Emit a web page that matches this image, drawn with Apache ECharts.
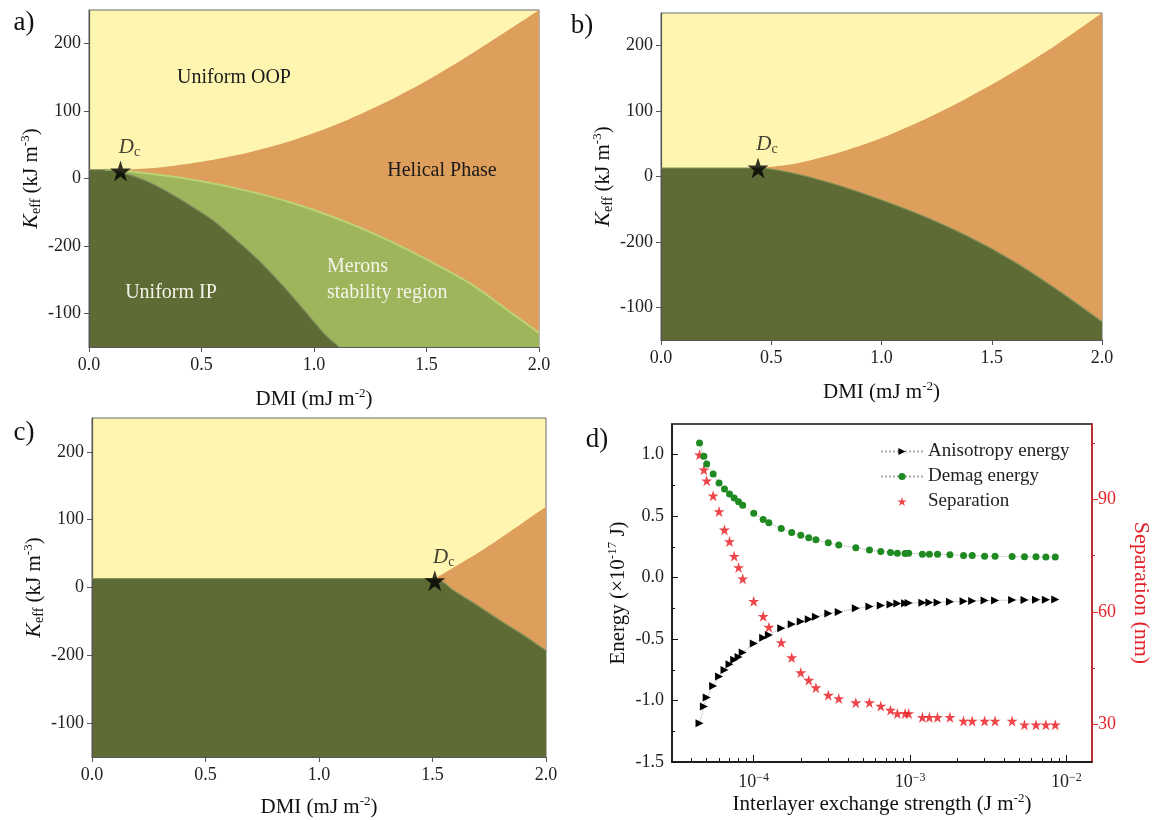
<!DOCTYPE html>
<html>
<head>
<meta charset="utf-8">
<script src="https://cdn.jsdelivr.net/npm/echarts@6/dist/echarts.min.js"></script>
<style>
  html, body { margin: 0; padding: 0; background: #fff; }
  #chart { width: 1153px; height: 820px; }
</style>
</head>
<body>
<div id="chart"></div>
<script>
// ---- phase diagrams, [DMI, Keff] ----
var aHelicalTop = [[0.14,13],[0.3,16],[0.5,25],[0.7,38],[0.9,56],[1.1,80],[1.3,110],[1.5,145],[1.7,185],[1.9,228],[2.0,250]];
var aMeronTop = [[0.07,13],[0.14,12],[0.3,6],[0.5,-4],[0.7,-18],[0.9,-36],[1.1,-59],[1.3,-87],[1.5,-120],[1.7,-157],[1.9,-205],[2.0,-229]];
var aIpTop = [[0,13],[0.07,13],[0.15,8],[0.25,-3],[0.35,-20],[0.45,-40],[0.55,-62],[0.65,-90],[0.75,-120],[0.85,-155],[0.95,-193],[1.05,-232],[1.12,-252]];
var bHelicalTop = [[0.44,13],[0.6,19],[0.8,36],[1.0,59],[1.2,88],[1.4,122],[1.6,160],[1.8,203],[2.0,250]];
var bIpTop = [[0,13],[0.44,13],[0.6,5],[0.8,-13],[1.0,-36],[1.2,-62],[1.4,-93],[1.6,-130],[1.8,-174],[2.0,-222]];
var cHelicalTop = [[1.51,13],[1.6,31],[1.7,51],[1.8,73],[1.9,96],[2.0,119]];
var cIpTop = [[0,13],[1.51,13],[1.6,-6],[1.7,-27],[1.8,-49],[1.9,-70],[2.0,-93]];
var dcPoints = [[0.14,11],[0.44,13],[1.51,10]];

// y tick labels as printed in the figure (lower two are swapped there)
var kTickValues = [-200, -100, 0, 100, 200];
var kTickText = ['-100', '-200', '0', '100', '200'];

// ---- panel d ----
var exchange = [4.5e-5,4.8e-5,5.0e-5,5.5e-5,6.0e-5,6.5e-5,7.0e-5,7.5e-5,8.0e-5,8.5e-5,
  1.0e-4,1.15e-4,1.25e-4,1.5e-4,1.75e-4,2.0e-4,2.25e-4,2.5e-4,3.0e-4,3.5e-4,
  4.5e-4,5.5e-4,6.5e-4,7.5e-4,8.3e-4,9.3e-4,9.8e-4,1.2e-3,1.33e-3,1.5e-3,
  1.8e-3,2.2e-3,2.5e-3,3.0e-3,3.5e-3,4.5e-3,5.4e-3,6.4e-3,7.4e-3,8.5e-3];
var anisotropy = [-1.185,-1.049,-0.976,-0.881,-0.805,-0.751,-0.704,-0.669,-0.645,-0.609,
  -0.536,-0.490,-0.466,-0.411,-0.379,-0.357,-0.338,-0.319,-0.292,-0.279,
  -0.250,-0.235,-0.227,-0.218,-0.211,-0.209,-0.207,-0.204,-0.203,-0.202,
  -0.197,-0.193,-0.191,-0.186,-0.186,-0.182,-0.181,-0.180,-0.179,-0.178];
var demag = [1.095,0.987,0.924,0.843,0.770,0.721,0.680,0.647,0.617,0.588,
  0.523,0.474,0.446,0.400,0.368,0.344,0.324,0.308,0.283,0.265,
  0.243,0.224,0.213,0.205,0.198,0.197,0.199,0.191,0.191,0.190,
  0.186,0.181,0.180,0.175,0.175,0.172,0.169,0.169,0.168,0.167];
var separation = [101.8,97.8,94.9,90.9,86.7,81.8,78.7,74.8,71.8,68.8,
  62.8,58.8,55.9,51.8,47.8,43.8,41.8,39.8,37.8,36.9,
  35.8,35.8,34.9,33.8,32.9,32.9,32.9,31.9,31.9,31.9,
  31.9,30.9,30.9,30.9,30.9,30.9,29.9,29.9,29.9,29.9];
var energyTicks = [-1.5, -1.0, -0.5, 0.0, 0.5, 1.0];
var energyMinor = [-1.25, -0.75, -0.25, 0.25, 0.75];
var sepTicks = [30, 60, 90];
var sepMinor = [45, 75, 105];
var logMinor = [4e-5,5e-5,6e-5,7e-5,8e-5,9e-5,2e-4,3e-4,4e-4,5e-4,6e-4,7e-4,8e-4,9e-4,2e-3,3e-3,4e-3,5e-3,6e-3,7e-3,8e-3,9e-3];

var FONT = '"Liberation Serif", "Times New Roman", serif';
var YELLOW = '#fef6b0', ORANGE = '#dd9f5b', LGREEN = '#9fb55b', DGREEN = '#5e6b35';
var RED = '#e3232a';
var STAR = 'path://M50,0 L61.2,34.5 L97.6,34.5 L68.2,55.9 L79.4,90.5 L50,69.1 L20.6,90.5 L31.8,55.9 L2.4,34.5 L38.8,34.5 Z';

var titleRich = {
  t: { fontFamily: FONT, fontSize: 21, color: '#111', lineHeight: 24 },
  i: { fontFamily: FONT, fontSize: 22, color: '#111', fontStyle: 'italic', lineHeight: 24 },
  sub: { fontFamily: FONT, fontSize: 14, color: '#111', lineHeight: 14, verticalAlign: 'bottom' },
  sup: { fontFamily: FONT, fontSize: 13, color: '#111', lineHeight: 13, verticalAlign: 'top' }
};

var grids = [
  { left: 89, top: 10, width: 450, height: 337 },
  { left: 661, top: 13, width: 441, height: 327 },
  { left: 92, top: 418, width: 454, height: 339 },
  { left: 672, top: 424, width: 420, height: 338 }
];
grids.forEach(function (g, i) {
  g.show = true;
  g.containLabel = false;
  g.outerBoundsMode = 'none';
  g.backgroundColor = i < 3 ? YELLOW : 'transparent';
  g.borderColor = i < 3 ? '#6b6b6b' : '#111';
  g.borderWidth = i < 3 ? 1 : 1.5;
});

var xAxes = [], yAxes = [];
[40, 40, 38].forEach(function (gap, i) {
  xAxes.push({
    type: 'value', gridIndex: i, min: 0, max: 2, interval: 0.5, z: 3,
    axisLine: { onZero: false, lineStyle: { color: '#555', width: 1.2 } },
    axisTick: { length: 5, lineStyle: { color: '#555' } },
    axisLabel: { fontFamily: FONT, fontSize: 18, color: '#222', margin: 9,
      formatter: function (v) { return v.toFixed(1); } },
    splitLine: { show: false },
    name: '{t|DMI (mJ m}{sup|-2}{t|)}', nameLocation: 'middle', nameGap: gap,
    nameTextStyle: { rich: titleRich }
  });
  yAxes.push({
    type: 'value', gridIndex: i, min: -250, max: 250, z: 3,
    axisLine: { show: true, onZero: false, lineStyle: { color: '#555', width: 1.2 } },
    axisTick: { show: true, length: 5, customValues: kTickValues, lineStyle: { color: '#555' } },
    axisLabel: { fontFamily: FONT, fontSize: 18, color: '#222', margin: 8, customValues: kTickValues,
      formatter: function (v) { return kTickText[kTickValues.indexOf(v)]; } },
    splitLine: { show: false },
    name: '{i|K}{sub|eff}{t| (kJ m}{sup|-3}{t|)}', nameLocation: 'middle', nameGap: 46, nameRotate: 90,
    nameTextStyle: { rich: titleRich }
  });
});

// panel d axes
xAxes.push({
  type: 'log', logBase: 10, gridIndex: 3, min: 3e-5, max: 1.46e-2, position: 'bottom',
  axisLine: { onZero: false, lineStyle: { color: '#111', width: 1.5 } },
  axisTick: { inside: true, length: 7, lineStyle: { color: '#111' } },
  axisLabel: { showMinLabel: false, showMaxLabel: false, margin: 10,
    formatter: function (v) { return '{b|10}{s|\u2212' + Math.abs(Math.round(Math.log10(v))) + '}'; },
    rich: {
      b: { fontFamily: FONT, fontSize: 18, color: '#222', lineHeight: 20 },
      s: { fontFamily: FONT, fontSize: 12, color: '#222', lineHeight: 12, verticalAlign: 'top' }
    } },
  splitLine: { show: false },
  name: '{t|Interlayer exchange strength (J m}{sup|-2}{t|)}', nameLocation: 'middle', nameGap: 30,
  nameTextStyle: { rich: titleRich }
});
xAxes.push({
  type: 'value', gridIndex: 3, position: 'bottom', min: Math.log10(3e-5), max: Math.log10(1.46e-2),
  axisLine: { show: false, onZero: false },
  axisTick: { show: true, inside: true, length: 4, customValues: logMinor.map(function (v) { return Math.log10(v); }),
    lineStyle: { color: '#111' } },
  axisLabel: { show: false },
  splitLine: { show: false }
});
yAxes.push({
  type: 'value', gridIndex: 3, position: 'left', min: -1.5, max: 1.25,
  axisLine: { show: true, onZero: false, lineStyle: { color: '#111', width: 1.5 } },
  axisTick: { show: true, inside: true, length: 6, customValues: energyTicks, lineStyle: { color: '#111' } },
  axisLabel: { fontFamily: FONT, fontSize: 18, color: '#222', margin: 8, customValues: energyTicks,
    formatter: function (v) { return v.toFixed(1); } },
  splitLine: { show: false },
  name: '{t|Energy (\u00d710}{sup|-17}{t| J)}', nameLocation: 'middle', nameGap: 42, nameRotate: 90,
  nameTextStyle: { rich: titleRich }
});
yAxes.push({
  type: 'value', gridIndex: 3, position: 'right', min: 20, max: 110,
  axisLine: { show: true, onZero: false, lineStyle: { color: RED, width: 1.5 } },
  axisTick: { show: true, length: 6, customValues: sepTicks, lineStyle: { color: RED } },
  axisLabel: { fontFamily: FONT, fontSize: 18, color: RED, margin: 6, customValues: sepTicks },
  splitLine: { show: false },
  name: 'Separation (nm)', nameLocation: 'middle', nameGap: 38, nameRotate: -90,
  nameTextStyle: { fontFamily: FONT, fontSize: 22, color: RED }
});
yAxes.push({
  type: 'value', gridIndex: 3, position: 'right', min: 20, max: 110,
  axisLine: { show: false, onZero: false },
  axisTick: { show: true, length: 3, customValues: sepMinor, lineStyle: { color: RED } },
  axisLabel: { show: false }, splitLine: { show: false }
});
yAxes.push({
  type: 'value', gridIndex: 3, position: 'left', min: -1.5, max: 1.25,
  axisLine: { show: false, onZero: false },
  axisTick: { show: true, inside: true, length: 3, customValues: energyMinor, lineStyle: { color: '#111' } },
  axisLabel: { show: false }, splitLine: { show: false }
});

function region(gi, data, color, lineColor, lineWidth) {
  return {
    type: 'line', xAxisIndex: gi, yAxisIndex: gi, data: data,
    symbol: 'none', smooth: 0.3, silent: true,
    lineStyle: { color: lineColor || color, width: lineWidth || 0 },
    areaStyle: { color: color, opacity: 1, origin: 'start' }
  };
}
function dcStar(gi) {
  return {
    type: 'scatter', xAxisIndex: gi, yAxisIndex: gi, data: [dcPoints[gi]],
    symbol: STAR, symbolSize: 21, itemStyle: { color: '#000' }, silent: true, z: 5,
    label: { show: true, position: 'top', distance: 1, offset: [9, 0],
      formatter: '{d|D}{c|c}',
      rich: {
        d: { fontFamily: FONT, fontSize: 21, fontStyle: 'italic', color: '#111', lineHeight: 24 },
        c: { fontFamily: FONT, fontSize: 14, color: '#111', lineHeight: 14, verticalAlign: 'bottom' }
      } }
  };
}

var series = [
  region(0, aHelicalTop, ORANGE),
  region(0, aMeronTop, LGREEN, '#bcd274', 2),
  region(0, aIpTop, DGREEN, '#7e8c62', 1.2),
  dcStar(0),
  region(1, bHelicalTop, ORANGE),
  region(1, bIpTop, DGREEN, '#7f9359', 1.2),
  dcStar(1),
  region(2, cHelicalTop, ORANGE),
  region(2, cIpTop, DGREEN, '#7f9359', 1.2),
  dcStar(2),
  {
    name: 'Anisotropy energy', type: 'line', xAxisIndex: 3, yAxisIndex: 3,
    data: exchange.map(function (x, i) { return [x, anisotropy[i]]; }),
    symbol: 'triangle', symbolRotate: -90, symbolSize: 8,
    itemStyle: { color: '#000' },
    lineStyle: { color: '#a8a8a8', width: 1, type: 'dotted' }
  },
  {
    name: 'Demag energy', type: 'line', xAxisIndex: 3, yAxisIndex: 3,
    data: exchange.map(function (x, i) { return [x, demag[i]]; }),
    symbol: 'circle', symbolSize: 7,
    itemStyle: { color: '#1f8a22' },
    lineStyle: { color: '#a8a8a8', width: 1, type: 'dotted' }
  },
  {
    name: 'Separation', type: 'scatter', xAxisIndex: 3, yAxisIndex: 4,
    data: exchange.map(function (x, i) { return [x, separation[i]]; }),
    symbol: STAR, symbolSize: 11,
    itemStyle: { color: '#e8161b' }
  }
];

function txt(x, y, s, color, size, align) {
  return { type: 'text', x: x, y: y, silent: true, z: 10,
    style: { text: s, fill: color, font: (size || 20) + 'px ' + FONT,
      align: align || 'center', textAlign: align || 'center',
      verticalAlign: 'middle', textVerticalAlign: 'middle' } };
}

var option = {
  animation: false,
  backgroundColor: '#fff',
  grid: grids,
  xAxis: xAxes,
  yAxis: yAxes,
  series: series,
  legend: {
    data: ['Anisotropy energy', 'Demag energy', 'Separation'],
    orient: 'vertical', left: 875, top: 437, itemWidth: 42, itemHeight: 9, itemGap: 6,
    selectedMode: false,
    textStyle: { fontFamily: FONT, fontSize: 19, color: '#222' }
  },
  graphic: [
    txt(24, 23, 'a)', '#111', 27),
    txt(582, 26, 'b)', '#111', 27),
    txt(24, 433, 'c)', '#111', 27),
    txt(597, 440, 'd)', '#111', 27),
    txt(234, 78, 'Uniform OOP', '#1a1a1a', 20),
    txt(442, 171, 'Helical Phase', '#1a1a1a', 20),
    txt(171, 293, 'Uniform IP', '#f4f4ea', 20),
    txt(327, 267, 'Merons', '#f4f4ea', 20, 'left'),
    txt(327, 293, 'stability region', '#f4f4ea', 20, 'left')
  ]
};

var chart = echarts.init(document.getElementById('chart'), null, { renderer: 'canvas' });
chart.setOption(option);
</script>
</body>
</html>
